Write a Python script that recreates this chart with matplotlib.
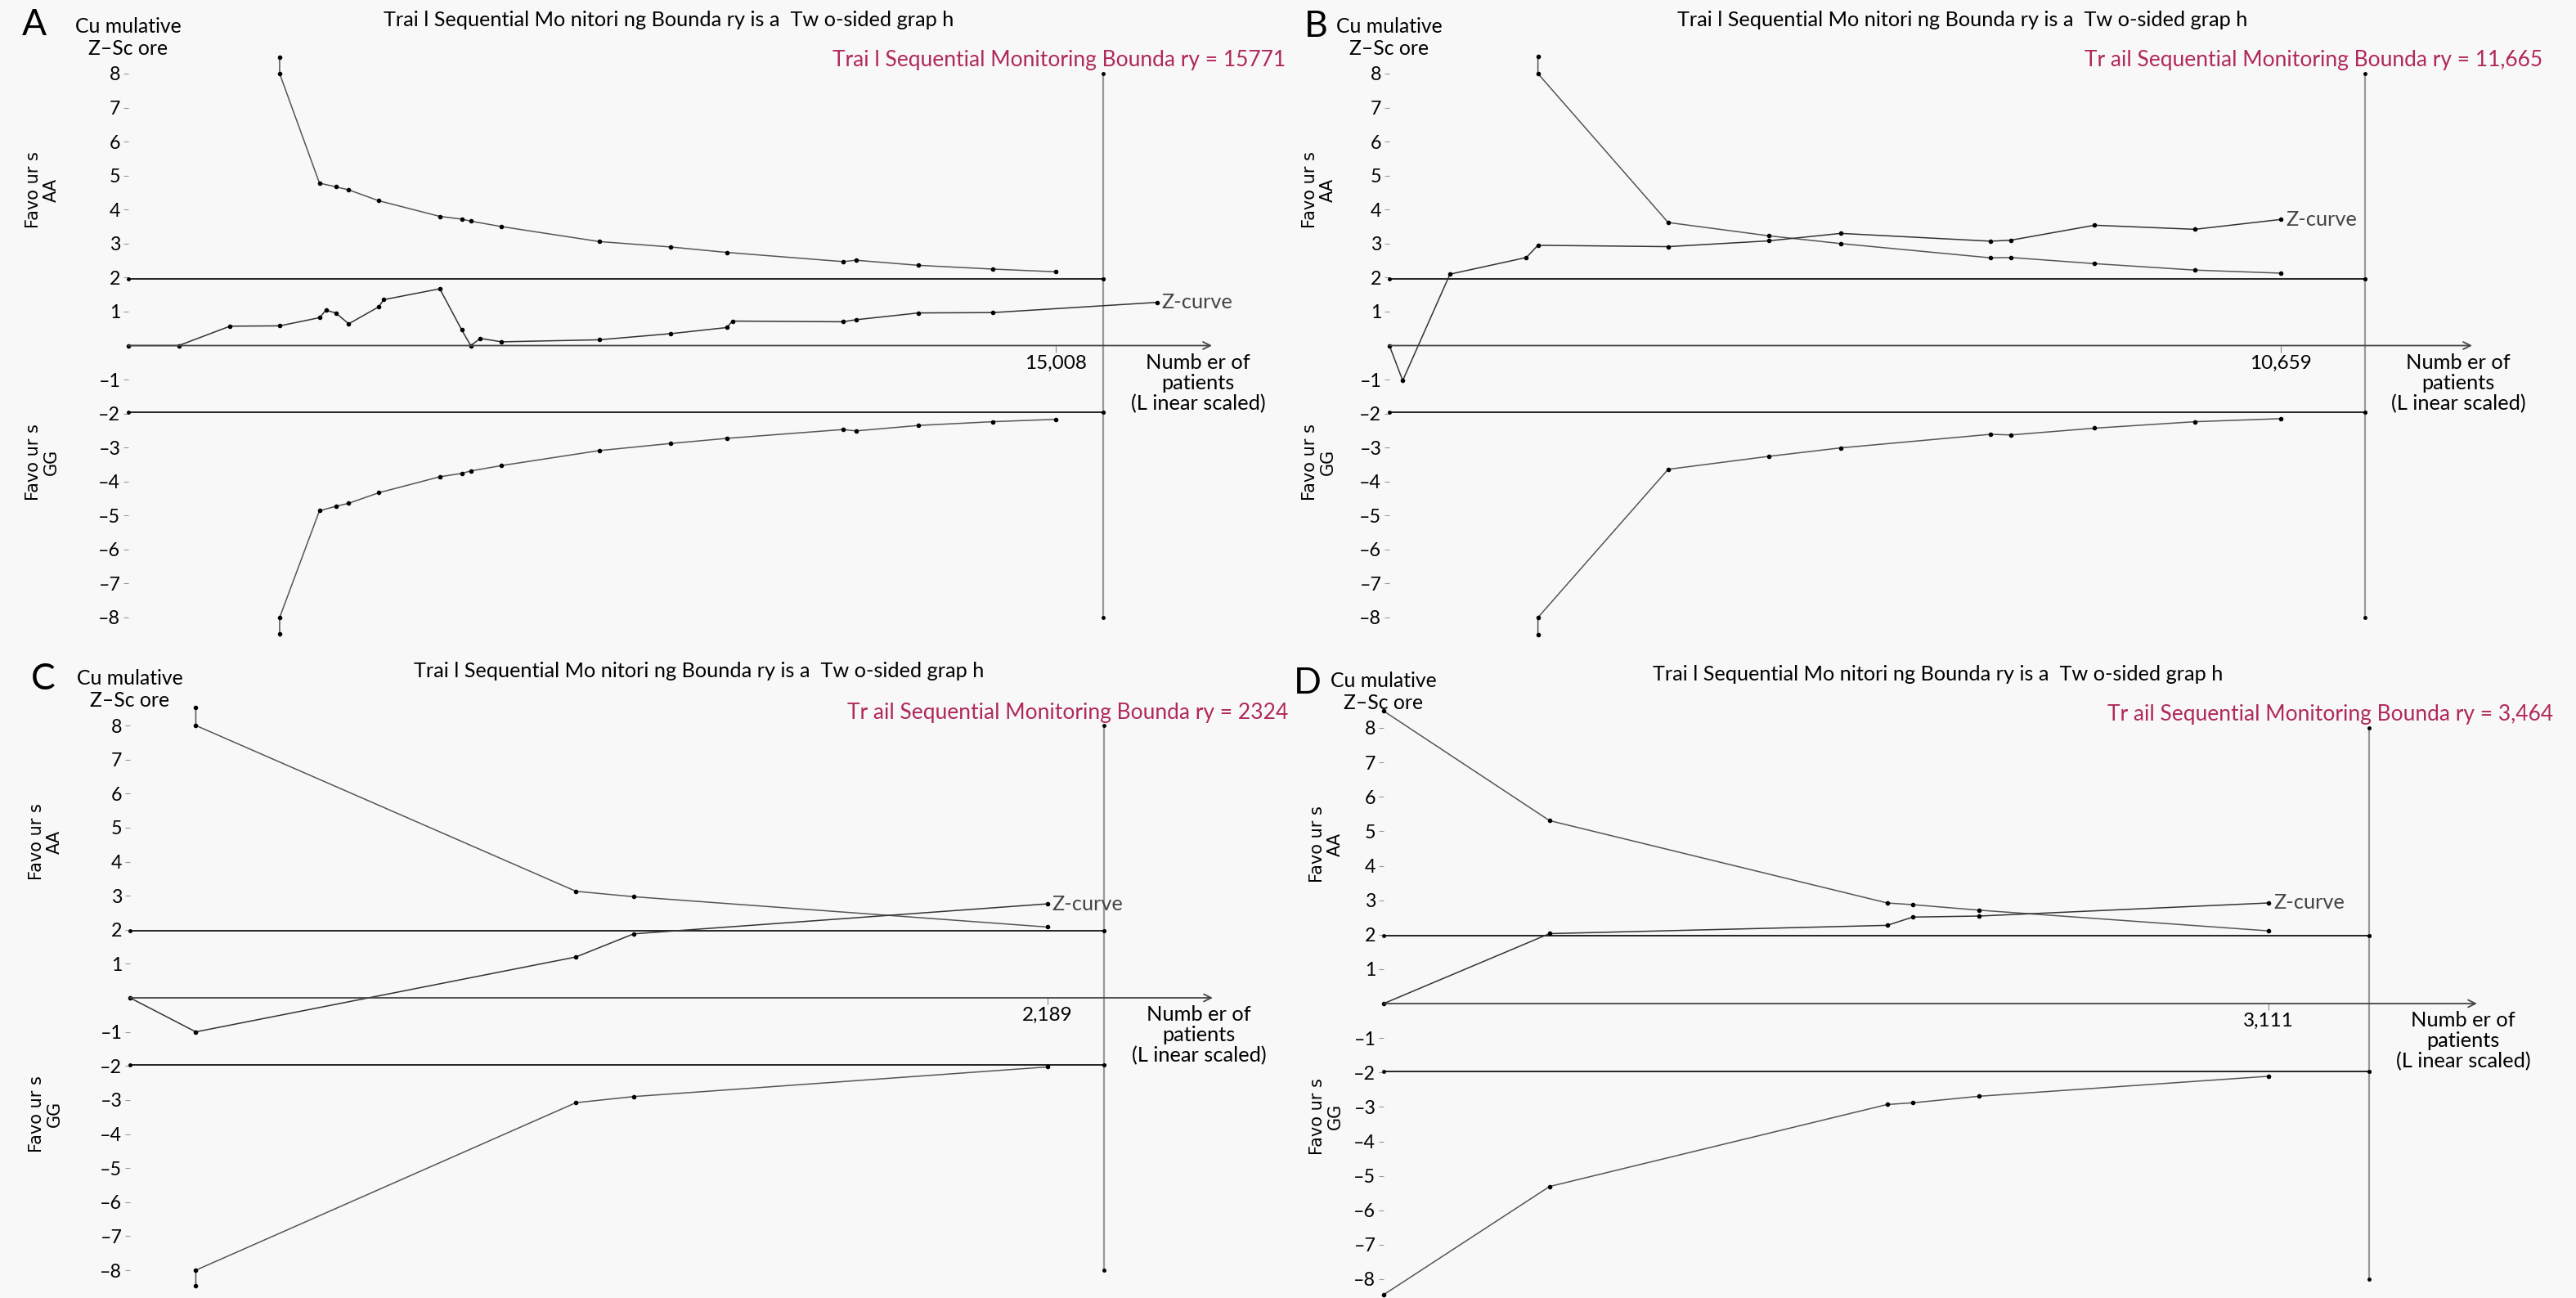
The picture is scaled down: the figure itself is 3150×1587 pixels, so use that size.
import matplotlib
matplotlib.use("Agg")
import matplotlib.pyplot as plt

plt.rcParams['font.family'] = ['Lato', 'DejaVu Sans']

# ---- data (patients, cumulative z) ----
# A
A_nb = 15771
A_tick = 15008
A_z_x = [0, 815, 1644, 2447, 3091, 3196, 3354, 3565, 4051, 4130, 5038, 5393, 5538,
         5695, 6037, 7616, 8773, 9681, 9773, 11562, 11772, 12785, 13982, 16639]
A_z_y = [0, 0, 0.57, 0.58, 0.82, 1.04, 0.96, 0.64, 1.14, 1.35, 1.67, 0.46, 0.0,
         0.21, 0.11, 0.17, 0.35, 0.53, 0.72, 0.70, 0.76, 0.96, 0.97, 1.27]
A_b_x = [2447, 2447, 3091, 3354, 3565, 4051, 5038, 5393, 5538, 6037, 7616, 8773,
         9681, 11562, 11772, 12785, 13982, 15008]
A_up = [8.48, 8.0, 4.78, 4.67, 4.58, 4.26, 3.8, 3.72, 3.66, 3.5, 3.06, 2.9,
        2.74, 2.47, 2.51, 2.36, 2.25, 2.17]
A_lo = [-8.48, -8.0, -4.86, -4.73, -4.64, -4.33, -3.86, -3.76, -3.69, -3.53, -3.09, -2.88,
        -2.73, -2.47, -2.51, -2.35, -2.24, -2.17]

# B
B_nb = 11665
B_tick = 10659
B_z_x = [0, 159, 724, 1637, 1776, 3333, 4533, 5396, 7191, 7430, 8431, 9632, 10659]
B_z_y = [0, -1.03, 2.1, 2.59, 2.95, 2.91, 3.08, 3.3, 3.07, 3.1, 3.54, 3.42, 3.71]
B_b_x = [1776, 1776, 3333, 4533, 5396, 7191, 7430, 8431, 9632, 10659]
B_up = [8.5, 8.0, 3.62, 3.23, 3.0, 2.58, 2.59, 2.41, 2.22, 2.13]
B_lo = [-8.5, -8.0, -3.64, -3.26, -3.01, -2.61, -2.63, -2.43, -2.24, -2.15]

# C
C_nb = 2324
C_tick = 2189
C_z_x = [0, 157, 1064, 1202, 2189]
C_z_y = [0, -1.0, 1.2, 1.88, 2.76]
C_b_x = [157, 157, 1064, 1202, 2189]
C_up = [8.52, 8.0, 3.13, 2.97, 2.08]
C_lo = [-8.45, -8.0, -3.08, -2.9, -2.03]

# D
D_nb = 3464
D_tick = 3111
D_z_x = [0, 583, 1770, 1860, 2094, 3111]
D_z_y = [0, 2.03, 2.27, 2.51, 2.54, 2.92]
D_b_x = [0, 583, 1770, 1860, 2094, 3111]
D_up = [8.49, 5.31, 2.92, 2.87, 2.71, 2.11]
D_lo = [-8.45, -5.31, -2.93, -2.88, -2.69, -2.11]

yticks = [8, 7, 6, 5, 4, 3, 2, 1, -1, -2, -3, -4, -5, -6, -7, -8]
title = "Trai l Sequential Mo nitori ng Bounda ry is a  Tw o-sided grap h"
axis_label = 'Numb er of\npatients\n(L inear scaled)'

W, H = 3150, 1587
BG = '#f8f8f8'
RED = '#b0285c'

fig = plt.figure(figsize=(W / 100, H / 100), dpi=100, facecolor=BG)
renderer = fig.canvas.get_renderer()


def fit_size(s, target_px, family=None, base=20):
    # font size giving the same width (pixels) as the reference text
    kw = {'family': family} if family else {}
    t = fig.text(0, 0, s, fontsize=base, **kw)
    w = t.get_window_extent(renderer).width
    t.remove()
    return base * target_px / w


fs_title = fit_size(title, 700)
fs_red = fit_size('Tr ail Sequential Monitoring Bounda ry = 11,665', 560)
fs_lab = fit_size('Numb er of', 128)
fs_cum = fit_size('Cu mulative', 130)
fs_xt = fit_size('15,008', 76)
fs_yt = fit_size('\u20138', 27)
fs_fav = fit_size('Favo ur s', 94, family='DejaVu Sans')


def ftxt(x, y, s, **kw):
    # place text by pixel position in the figure
    fig.text(x / W, 1 - y / H, s, **kw)


def panel(letter, geo, nb, tick, zx, zy, bx, up, lo, red, title_x, red_x, fav_x):
    x0, xb, xe, y8, ym8 = geo
    y0 = (y8 + ym8) / 2
    ax = fig.add_axes([x0 / W, 1 - ym8 / H, (xe - x0) / W, (ym8 - y8) / H])
    xmax = nb * (xe - x0) / (xb - x0)
    ax.set_xlim(0, xmax)
    ax.set_ylim(-8, 8)
    ax.patch.set_visible(False)
    for s in ax.spines.values():
        s.set_visible(False)
    ax.spines['bottom'].set_position(('data', 0))

    ax.set_yticks(yticks)
    ax.set_yticklabels([str(t).replace('-', '\u2013') for t in yticks])
    ax.tick_params(axis='y', length=4, color='#999999', labelsize=fs_yt, pad=3)
    ax.set_xticks([tick])
    ax.set_xticklabels(['{:,}'.format(tick)])
    ax.tick_params(axis='x', length=6, color='#888888', labelsize=fs_xt, pad=2)

    # axes with arrows
    ax.annotate('', xy=(0, 8.35), xytext=(0, -8),
                arrowprops=dict(arrowstyle='->', color='k', lw=1.1,
                                shrinkA=0, shrinkB=0, mutation_scale=16))
    ax.annotate('', xy=(xmax, 0), xytext=(0, 0),
                arrowprops=dict(arrowstyle='->', color='#444444', lw=1.3,
                                shrinkA=0, shrinkB=0, mutation_scale=16))

    # conventional +-1.96 lines and required information size line
    for v in (1.96, -1.96):
        ax.plot([0, nb], [v, v], color='k', lw=1.2, marker='o', ms=2.5, clip_on=False)
    ax.plot([nb, nb], [-8, 8], color='#999999', lw=1.6, clip_on=False)
    ax.plot([nb] * 4, [8, 1.96, -1.96, -8], ls='none', marker='o', ms=2.5,
            color='k', clip_on=False)

    # monitoring boundaries
    ax.plot(bx, up, color='#555555', lw=1.1, marker='o', ms=3, mfc='k', mec='k', clip_on=False)
    ax.plot(bx, lo, color='#555555', lw=1.1, marker='o', ms=3, mfc='k', mec='k', clip_on=False)
    # z-curve
    ax.plot(zx, zy, color='#333333', lw=1.1, marker='o', ms=3, mfc='k', mec='k', clip_on=False)
    ax.annotate('Z-curve', xy=(zx[-1], zy[-1]), xytext=(6, 0), textcoords='offset pixels',
                ha='left', va='center', fontsize=fs_lab, color='#444444')

    # texts
    ftxt(letter[1], letter[2], letter[0], fontsize=32, va='top', ha='left')
    ftxt(x0, y8 - 44, 'Cu mulative\nZ\u2013Sc ore', fontsize=fs_cum, ha='center',
         va='center', linespacing=1.2)
    ftxt(title_x, y8 - 66, title, fontsize=fs_title, ha='center', va='center')
    ftxt(red_x, y8 - 16, red, fontsize=fs_red, ha='right', va='center', color=RED)
    ftxt(xe - 17, y0 + 46, axis_label, fontsize=fs_lab, ha='center', va='center',
         linespacing=1.1)
    ftxt(fav_x, y8 + 142, 'Favo ur s\nAA', fontsize=fs_fav, rotation=90, ha='center',
         va='center', family='DejaVu Sans', linespacing=1.15)
    ftxt(fav_x, y8 + 475, 'Favo ur s\nGG', fontsize=fs_fav, rotation=90, ha='center',
         va='center', family='DejaVu Sans', linespacing=1.15)
    return ax


panel(('A', 27, 10), (157, 1349, 1482, 90, 755), A_nb, A_tick, A_z_x, A_z_y, A_b_x, A_up, A_lo,
      'Trai l Sequential Monitoring Bounda ry = 15771', 818, 1572, 52)
panel(('B', 1595, 12), (1699, 2892, 3023, 90, 755), B_nb, B_tick, B_z_x, B_z_y, B_b_x, B_up, B_lo,
      'Tr ail Sequential Monitoring Bounda ry = 11,665', 2400, 3109, 1613)
panel(('C', 38, 810), (159, 1350, 1483, 887, 1553), C_nb, C_tick, C_z_x, C_z_y, C_b_x, C_up, C_lo,
      'Tr ail Sequential Monitoring Bounda ry = 2324', 855, 1575, 56)
panel(('D', 1582, 815), (1692, 2897, 3029, 890, 1564), D_nb, D_tick, D_z_x, D_z_y, D_b_x, D_up, D_lo,
      'Tr ail Sequential Monitoring Bounda ry = 3,464', 2370, 3122, 1622)

fig.savefig('out.png', dpi=100, facecolor=BG)
